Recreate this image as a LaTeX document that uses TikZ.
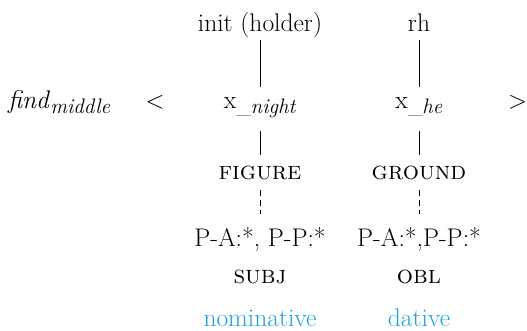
\documentclass[tikz,border=0pt]{standalone}
\definecolor{casecol}{RGB}{28,162,220}
\newcommand{\lowsub}[1]{\raisebox{-5pt}{\fontsize{21}{21}\selectfont #1}}
\begin{document}
\begin{tikzpicture}[x=1pt,y=-1pt,
    every node/.style={inner sep=0pt,anchor=base,font=\fontsize{25.5}{30}\selectfont,text height=17pt,text depth=5pt},
    tie/.style={line width=0.8pt},
    weak/.style={tie,dash pattern=on 6pt off 4pt}]
  \useasboundingbox (0,0) rectangle (527,331);
  \node[anchor=base west] (fm) at (8,109) {\textit{find}\lowsub{\textit{middle}}};
  \node (lt) at (155,109) {$<$};
  \node[anchor=base west] (gt) at (508,109) {$>$};
  % figure column
  \node (init) at (260,32) {init (holder)};
  \node (xn) at (260,109) {x\lowsub{\_\textit{night}}};
  \node (fig) at (260,180) {\textsc{figure}};
  \node (pa1) at (260,246) {P-A:*, P-P:*};
  \node (subj) at (260,283) {\textsc{subj}};
  \node[text=casecol] (nom) at (260,326) {nominative};
  % ground column
  \node (rh) at (419,32) {rh};
  \node (xh) at (419,109) {x\lowsub{\_\textit{he}}};
  \node (grd) at (419,180) {\textsc{ground}};
  \node (pa2) at (419,246) {P-A:*,P-P:*};
  \node (obl) at (419,283) {\textsc{obl}};
  \node[text=casecol] (dat) at (419,326) {dative};
  \draw[tie,shorten <=3pt,shorten >=5pt] (init.south) -- (init.south |- xn.north);
  \draw[tie,shorten <=3pt,shorten >=5pt] (rh.south) -- (xh.north);
  \draw[tie,shorten <=17pt,shorten >=8pt] (xn.south -| init.south) -- (fig.north);
  \draw[tie,shorten <=17pt,shorten >=8pt] (xh.south) -- (grd.north);
  \draw[weak,shorten <=5pt,shorten >=15pt] (fig.south) -- (pa1.north);
  \draw[weak,shorten <=5pt,shorten >=15pt] (grd.south) -- (pa2.north);
\end{tikzpicture}
\end{document}
